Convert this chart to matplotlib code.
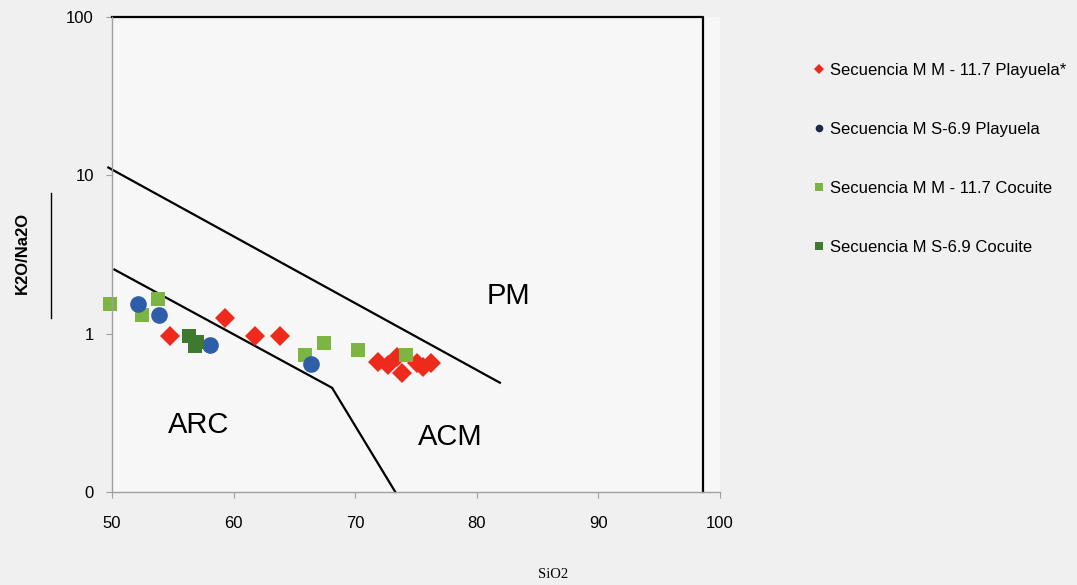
import numpy as np
import matplotlib
matplotlib.use("Agg")
import matplotlib.pyplot as plt
from matplotlib.lines import Line2D
from matplotlib.ticker import FixedLocator, FixedFormatter, NullLocator

plt.rcParams['font.family'] = ['Liberation Sans', 'DejaVu Sans']

# data (SiO2 vs K2O/Na2O)
mm_play_x = [54.8, 59.3, 61.8, 63.8, 71.9, 72.7, 73.4, 73.85, 75.1, 75.6, 76.2]
mm_play_y = [0.96, 1.26, 0.96, 0.97, 0.665, 0.636, 0.715, 0.567, 0.655, 0.62, 0.655]

ms_play_x = [52.1, 53.9, 58.1, 66.4]
ms_play_y = [1.53, 1.32, 0.85, 0.64]

mm_coc_x = [49.8, 52.5, 53.8, 65.9, 67.4, 70.2, 74.2]
mm_coc_y = [1.53, 1.32, 1.66, 0.736, 0.877, 0.79, 0.736]

ms_coc_x = [56.3, 57.0, 56.8]
ms_coc_y = [0.96, 0.88, 0.83]

# field boundaries
pm_line_x = [49.7, 81.9]
pm_line_y = [11.2, 0.49]
arc_line_x = [50.2, 68.1, 73.3]
arc_line_y = [2.54, 0.455, 0.1]
box_x = [50, 98.6, 98.6]
box_y = [100, 100, 0.1]

labels = ["Secuencia M M - 11.7 Playuela*", "Secuencia M S-6.9 Playuela",
          "Secuencia M M - 11.7 Cocuite", "Secuencia M S-6.9 Cocuite"]
c_red = "#ee2a1c"
c_blue = "#2f5ea8"
c_lgreen = "#7db545"
c_dgreen = "#3d7a30"

fig = plt.figure(figsize=(10.77, 5.85), dpi=100, facecolor="#f0f0f0")
ax = fig.add_axes([112/1077, 1-492/585, 608/1077, 475/585])
ax.set_facecolor("#f7f7f7")
ax.set_yscale("log")
ax.set_xlim(50, 100)
ax.set_ylim(0.1, 100)

ax.plot(box_x, box_y, color="black", lw=1.6, clip_on=False)
ax.plot(pm_line_x, pm_line_y, color="black", lw=1.6, clip_on=False)
ax.plot(arc_line_x, arc_line_y, color="black", lw=1.6, clip_on=False)

ax.plot(mm_coc_x, mm_coc_y, "s", color=c_lgreen, ms=9.5, mew=0, clip_on=False)
ax.plot(ms_play_x, ms_play_y, "o", color=c_blue, ms=12, mew=0)
ax.plot(mm_play_x, mm_play_y, "D", color=c_red, ms=10, mew=0)
ax.plot(ms_coc_x, ms_coc_y, "s", color=c_dgreen, ms=9.5, mew=0)
# light green ones drawn on top of the cluster
ax.plot(mm_coc_x[-1:], mm_coc_y[-1:], "s", color=c_lgreen, ms=9.5, mew=0)
ax.plot(mm_coc_x[2:3], mm_coc_y[2:3], "s", color=c_lgreen, ms=9.5, mew=0)

ax.text(82.6, 1.74, "PM", fontsize=21, ha="center", va="center")
ax.text(57.1, 0.265, "ARC", fontsize=21, ha="center", va="center")
ax.text(77.8, 0.223, "ACM", fontsize=21, ha="center", va="center")

for s in ["top", "right"]:
    ax.spines[s].set_visible(False)
for s in ["left", "bottom"]:
    ax.spines[s].set_color("#a0a0a0")
    ax.spines[s].set_linewidth(1)

ax.xaxis.set_major_locator(FixedLocator([50, 60, 70, 80, 90, 100]))
ax.set_xticklabels(["50", "60", "70", "80", "90", "100"])
ax.yaxis.set_major_locator(FixedLocator([0.1, 1, 10, 100]))
ax.yaxis.set_major_formatter(FixedFormatter(["0", "1", "10", "100"]))
ax.yaxis.set_minor_locator(NullLocator())
ax.tick_params(axis="both", colors="#a0a0a0", labelcolor="black", labelsize=12, length=4)
ax.tick_params(axis="x", pad=13)
ax.tick_params(axis="y", pad=9)

fig.text(22/1077, 1-253/585, "K2O/Na2O", rotation=90, fontsize=12, fontweight="bold",
         ha="center", va="center")
fig.add_artist(Line2D([51/1077, 51/1077], [1-193/585, 1-318/585], color="black", lw=1))
fig.text(553/1077, 1-575/585, "SiO2", fontsize=10.5, family="Liberation Serif",
         ha="center", va="center")

handles = [
    Line2D([], [], ls="none", marker="D", color=c_red, ms=5, mew=0),
    Line2D([], [], ls="none", marker="o", color="#1c2a4a", ms=5.5, mew=0),
    Line2D([], [], ls="none", marker="s", color=c_lgreen, ms=5.5, mew=0),
    Line2D([], [], ls="none", marker="s", color=c_dgreen, ms=5.5, mew=0),
]
fig.legend(handles, labels, loc="upper left", bbox_to_anchor=(813/1077, 1-63/585),
           frameon=False, fontsize=12, labelspacing=2.63, handlelength=0.7,
           handletextpad=0.35, borderpad=0, borderaxespad=0)

fig.savefig("out.png", dpi=100, facecolor=fig.get_facecolor())
